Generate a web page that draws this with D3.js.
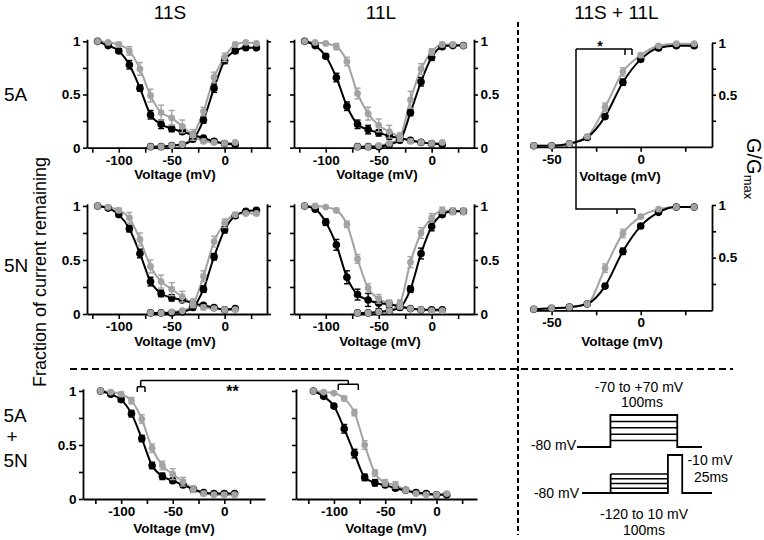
<!DOCTYPE html>
<html><head><meta charset="utf-8">
<script src="https://cdn.jsdelivr.net/npm/d3@7"></script>
<style>
body{margin:0;background:#fff}
svg{display:block}
</style></head><body>
<svg id="chart" width="764" height="540"></svg>
<script>
// ---------------- DATA ----------------
const vInact = [-120,-110,-100,-90,-80,-70,-60,-50,-40,-30,-20,-10,0,10];
const vAct   = [-70,-60,-50,-40,-30,-20,-10,0,10,20,30];
const vActCF = [-60,-50,-40,-30,-20,-10,0,10,20,30];

const xTicks = [-125,-100,-75,-50,-25,0,25];
const xTickLabels = [-100,-50,0];
const xTicksCF = [-50,-25,0,25];
const xTickLabelsCF = [-50,0];
const yTicks = [0,0.25,0.5,0.75,1];
const yTickLabels = [0,0.5,1];
const yTicksCF = [0.25,0.5,0.75,1];
const yTickLabelsCF = [0.5,1];

// 11S / 5A
const inactBlack_A = [1.00,0.96,0.91,0.78,0.56,0.31,0.22,0.18,0.15,0.12,0.09,0.06,0.04,0.03];
const inactBlackErr_A = [0,0.01,0.02,0.04,0.03,0.04,0.04,0.03,0.02,0.02,0.01,0.01,0.01,0.01];
const inactGrey_A = [1.00,0.99,0.97,0.91,0.74,0.49,0.33,0.28,0.20,0.12,0.06,0.05,0.04,0.05];
const inactGreyErr_A = [0,0.01,0.02,0.04,0.06,0.06,0.07,0.07,0.06,0.05,0.02,0.01,0.01,0.01];
const actBlack_A = [0.01,0.01,0.02,0.03,0.08,0.26,0.56,0.82,0.91,0.94,0.94];
const actBlackErr_A = [0,0,0.01,0.01,0.02,0.03,0.04,0.03,0.02,0.01,0.01];
const actGrey_A = [0.01,0.01,0.02,0.03,0.12,0.34,0.66,0.85,0.97,0.99,0.98];
const actGreyErr_A = [0,0,0.01,0.01,0.02,0.04,0.05,0.04,0.02,0.01,0.01];
// 11L / 5A
const inactBlack_B = [1.00,0.96,0.86,0.66,0.39,0.22,0.17,0.14,0.11,0.09,0.07,0.05,0.04,0.03];
const inactBlackErr_B = [0,0.01,0.02,0.04,0.04,0.04,0.04,0.03,0.03,0.02,0.01,0.01,0.01,0.01];
const inactGrey_B = [1.00,0.99,0.98,0.95,0.81,0.51,0.32,0.21,0.15,0.10,0.06,0.05,0.04,0.05];
const inactGreyErr_B = [0,0,0.01,0.03,0.04,0.05,0.06,0.06,0.06,0.04,0.02,0.01,0.01,0.01];
const actBlack_B = [0.01,0.01,0.01,0.03,0.07,0.33,0.62,0.85,0.95,0.96,0.96];
const actBlackErr_B = [0,0,0,0.01,0.02,0.03,0.04,0.03,0.02,0.01,0.01];
const actGrey_B = [0.01,0.01,0.02,0.04,0.10,0.45,0.74,0.90,0.97,0.97,0.96];
const actGreyErr_B = [0,0,0.01,0.01,0.03,0.08,0.05,0.03,0.02,0.01,0.01];
// 11S / 5N
const inactBlack_D = [1.00,0.98,0.92,0.79,0.56,0.30,0.19,0.15,0.13,0.10,0.08,0.06,0.04,0.05];
const inactBlackErr_D = [0,0.01,0.02,0.03,0.04,0.04,0.03,0.03,0.02,0.02,0.01,0.01,0.01,0.01];
const inactGrey_D = [1.00,0.99,0.96,0.89,0.69,0.44,0.30,0.23,0.16,0.10,0.06,0.05,0.04,0.04];
const inactGreyErr_D = [0,0.01,0.02,0.05,0.06,0.06,0.06,0.06,0.05,0.04,0.02,0.01,0.01,0.01];
const actBlack_D = [0.01,0.01,0.01,0.02,0.06,0.23,0.53,0.78,0.91,0.95,0.96];
const actBlackErr_D = [0,0,0,0.01,0.02,0.03,0.03,0.03,0.02,0.01,0.01];
const actGrey_D = [0.01,0.01,0.02,0.03,0.09,0.35,0.67,0.84,0.92,0.93,0.93];
const actGreyErr_D = [0,0,0,0.01,0.03,0.05,0.05,0.04,0.02,0.01,0.01];
// 11L / 5N
const inactBlack_E = [1.00,0.97,0.85,0.64,0.34,0.18,0.13,0.10,0.09,0.07,0.05,0.04,0.04,0.04];
const inactBlackErr_E = [0,0.01,0.03,0.05,0.06,0.05,0.06,0.05,0.03,0.02,0.01,0.01,0.01,0.01];
const inactGrey_E = [1.00,1.00,0.99,0.96,0.83,0.51,0.24,0.14,0.10,0.07,0.05,0.04,0.03,0.03];
const inactGreyErr_E = [0,0,0.01,0.02,0.03,0.04,0.04,0.04,0.03,0.02,0.01,0.01,0.01,0.01];
const actBlack_E = [0.01,0.01,0.02,0.03,0.06,0.23,0.56,0.81,0.92,0.95,0.95];
const actBlackErr_E = [0,0,0,0.01,0.02,0.03,0.05,0.04,0.02,0.02,0.02];
const actGrey_E = [0.01,0.01,0.02,0.03,0.10,0.48,0.75,0.89,0.96,0.95,0.95];
const actGreyErr_E = [0,0,0,0.01,0.03,0.05,0.05,0.04,0.03,0.03,0.03];
// 11S / 5A+5N
const inactBlack_G = [1.00,0.97,0.92,0.79,0.56,0.31,0.21,0.17,0.13,0.09,0.06,0.05,0.05,0.05];
const inactBlackErr_G = [0,0.01,0.02,0.03,0.03,0.03,0.03,0.02,0.02,0.01,0.01,0.01,0.01,0.01];
const inactGrey_G = [1.00,0.99,0.97,0.91,0.74,0.47,0.31,0.23,0.16,0.09,0.05,0.04,0.04,0.04];
const inactGreyErr_G = [0,0.01,0.02,0.03,0.04,0.04,0.04,0.05,0.04,0.03,0.02,0.01,0.01,0.01];
// 11L / 5A+5N
const inactBlack_H = [1.00,0.95,0.86,0.65,0.42,0.20,0.15,0.13,0.10,0.08,0.06,0.05,0.04,0.04];
const inactBlackErr_H = [0,0.01,0.02,0.04,0.04,0.03,0.03,0.02,0.02,0.01,0.01,0.01,0.01,0.01];
const inactGrey_H = [1.00,0.99,0.98,0.93,0.80,0.50,0.24,0.15,0.13,0.08,0.05,0.04,0.04,0.05];
const inactGreyErr_H = [0,0.01,0.01,0.02,0.03,0.04,0.03,0.03,0.03,0.02,0.01,0.01,0.01,0.01];
// 11S+11L activation, 5A and 5N
const actBlack_C = [0.01,0.01,0.03,0.09,0.29,0.62,0.84,0.95,0.97,0.97];
const actBlackErr_C = [0,0,0,0.01,0.02,0.03,0.02,0.02,0.01,0.01];
const actGrey_C = [0.01,0.01,0.03,0.10,0.38,0.72,0.88,0.97,0.99,0.99];
const actGreyErr_C = [0,0,0,0.01,0.04,0.04,0.02,0.01,0.01,0.01];
const actBlack_F = [0.01,0.02,0.03,0.06,0.23,0.56,0.80,0.93,0.98,0.98];
const actBlackErr_F = [0,0,0,0.01,0.02,0.03,0.02,0.01,0.01,0.01];
const actGrey_F = [0.01,0.02,0.03,0.06,0.40,0.73,0.89,0.96,0.98,0.98];
const actGreyErr_F = [0,0,0,0.01,0.04,0.04,0.02,0.01,0.01,0.01];

// Protocol schematic (ms / step index)
const proto1Times = [-50,0,100,137];
const proto1Levels = [1,2,3,4,5];
const proto2Times = [-50,0,100,125,177];
const proto2Levels = [1,2,3,4];
const proto2PulseLevel = 8;

// ---------------- DRAWING ----------------
const FONT = '"Liberation Sans", Arial, Helvetica, sans-serif';
const BLACK = '#000';
const GREY = '#a3a3a3';
const svg = d3.select('#chart').attr('font-family', FONT);

function zip(v, m, e){ return v.map((d,i)=>({v:d, m:m[i], e:e[i]})); }

function styleAxis(g){
  g.attr('font-family', FONT).attr('font-size', 13.5).attr('font-weight','bold');
  g.selectAll('path').attr('stroke', BLACK).attr('stroke-width', 1.8);
  g.selectAll('line').attr('stroke', BLACK).attr('stroke-width', 1.6);
  g.selectAll('text').attr('fill', BLACK);
}

function drawPanel(c){
  const x = d3.scaleLinear().domain(c.xd).range(c.xr);
  const y = d3.scaleLinear().domain(c.yd).range(c.yr);
  const g = svg.append('g');
  const fmt = labs => v => labs.includes(v) ? String(v) : '';

  const xa = g.append('g').attr('transform', `translate(0,${y(0)})`)
    .call(d3.axisBottom(x).tickValues(c.xt).tickFormat(fmt(c.xl)).tickSize(5).tickSizeOuter(0).tickPadding(2.5));
  styleAxis(xa);
  if (c.left){
    const la = g.append('g').attr('transform', `translate(${c.xr[0]},0)`)
      .call(d3.axisLeft(y).tickValues(c.yt).tickFormat(fmt(c.leftLabels)).tickSize(4).tickSizeOuter(0).tickPadding(2.5));
    styleAxis(la);
  }
  if (c.right){
    const ra = g.append('g').attr('transform', `translate(${c.xr[1]},0)`)
      .call(d3.axisRight(y).tickValues(c.yt).tickFormat(fmt(c.rightLabels)).tickSize(4).tickSizeOuter(0).tickPadding(2.5));
    styleAxis(ra);
  }

  const line = d3.line().x(d=>x(d.v)).y(d=>y(d.m)).curve(d3.curveMonotoneX);
  const order = [...c.series.filter(s=>s.color===GREY), ...c.series.filter(s=>s.color===BLACK)];
  order.forEach(s=>{
    g.append('path').datum(s.data).attr('d', line).attr('fill','none')
      .attr('stroke', s.color).attr('stroke-width', 2);
  });
  const pts = [...c.series.filter(s=>s.color===BLACK), ...c.series.filter(s=>s.color===GREY)];
  pts.forEach(s=>{
    const eb = g.append('g').attr('stroke', s.color).attr('stroke-width', 1.4);
    s.data.filter(d=>d.e>0).forEach(d=>{
      const cx = x(d.v), y1 = y(d.m-d.e), y2 = y(d.m+d.e);
      eb.append('line').attr('x1',cx).attr('x2',cx).attr('y1',y1).attr('y2',y2);
      eb.append('line').attr('x1',cx-3).attr('x2',cx+3).attr('y1',y1).attr('y2',y1);
      eb.append('line').attr('x1',cx-3).attr('x2',cx+3).attr('y1',y2).attr('y2',y2);
    });
    g.append('g').selectAll('circle').data(s.data).join('circle')
      .attr('cx', d=>x(d.v)).attr('cy', d=>y(d.m))
      .attr('r', s.color===BLACK ? 3.8 : 3.4)
      .attr('fill', s.color);
  });
  g.append('text').attr('x', c.vx).attr('y', c.vy).attr('text-anchor','middle')
    .attr('font-size', 13.5).attr('font-weight','bold').text('Voltage (mV)');
}

function inactSeries(b,be,gr,ge){
  return [{color:BLACK, data:zip(vInact,b,be)},{color:GREY, data:zip(vInact,gr,ge)}];
}
function actSeries(v,b,be,gr,ge){
  return [{color:BLACK, data:zip(v,b,be)},{color:GREY, data:zip(v,gr,ge)}];
}

const xdTop = [-130,40], xdBot = [-137,39.5], xdCF = [-61,40];

// Row 1
drawPanel({xd:xdTop, xr:[87,267], yd:[0,1.02], yr:[147.7,39.2], xt:xTicks, xl:xTickLabels, yt:yTicks,
  left:true, leftLabels:yTickLabels, right:true, rightLabels:[], vx:175, vy:179,
  series:[...inactSeries(inactBlack_A,inactBlackErr_A,inactGrey_A,inactGreyErr_A),
          ...actSeries(vAct,actBlack_A,actBlackErr_A,actGrey_A,actGreyErr_A)]});
drawPanel({xd:xdTop, xr:[294,474], yd:[0,1.02], yr:[147.7,39.2], xt:xTicks, xl:xTickLabels, yt:yTicks,
  left:true, leftLabels:[], right:true, rightLabels:yTickLabels, vx:377, vy:179,
  series:[...inactSeries(inactBlack_B,inactBlackErr_B,inactGrey_B,inactGreyErr_B),
          ...actSeries(vAct,actBlack_B,actBlackErr_B,actGrey_B,actGreyErr_B)]});
drawPanel({xd:xdCF, xr:[532,712], yd:[0,1], yr:[146.8,42.7], xt:xTicksCF, xl:xTickLabelsCF, yt:yTicksCF,
  left:false, right:true, rightLabels:yTickLabelsCF, vx:620, vy:181,
  series:actSeries(vActCF,actBlack_C,actBlackErr_C,actGrey_C,actGreyErr_C)});
// Row 2
drawPanel({xd:xdTop, xr:[87,267], yd:[0,1.02], yr:[314,203.8], xt:xTicks, xl:xTickLabels, yt:yTicks,
  left:true, leftLabels:yTickLabels, right:true, rightLabels:[], vx:175, vy:345.5,
  series:[...inactSeries(inactBlack_D,inactBlackErr_D,inactGrey_D,inactGreyErr_D),
          ...actSeries(vAct,actBlack_D,actBlackErr_D,actGrey_D,actGreyErr_D)]});
drawPanel({xd:xdTop, xr:[294,474], yd:[0,1.02], yr:[314,203.8], xt:xTicks, xl:xTickLabels, yt:yTicks,
  left:true, leftLabels:[], right:true, rightLabels:yTickLabels, vx:380, vy:345.5,
  series:[...inactSeries(inactBlack_E,inactBlackErr_E,inactGrey_E,inactGreyErr_E),
          ...actSeries(vAct,actBlack_E,actBlackErr_E,actGrey_E,actGreyErr_E)]});
drawPanel({xd:xdCF, xr:[532,712], yd:[0,1], yr:[310.3,205], xt:xTicksCF, xl:xTickLabelsCF, yt:yTicksCF,
  left:false, right:true, rightLabels:yTickLabelsCF, vx:622, vy:346,
  series:actSeries(vActCF,actBlack_F,actBlackErr_F,actGrey_F,actGreyErr_F)});
// Row 3
drawPanel({xd:xdBot, xr:[83,265], yd:[0,1.02], yr:[499,388.8], xt:xTicks, xl:xTickLabels, yt:yTicks,
  left:true, leftLabels:yTickLabels, right:false, vx:174, vy:533,
  series:inactSeries(inactBlack_G,inactBlackErr_G,inactGrey_G,inactGreyErr_G)});
drawPanel({xd:xdBot, xr:[296,477], yd:[0,1.02], yr:[499,388.8], xt:xTicks, xl:xTickLabels, yt:yTicks,
  left:true, leftLabels:[], right:false, vx:386, vy:533,
  series:inactSeries(inactBlack_H,inactBlackErr_H,inactGrey_H,inactGreyErr_H)});

// ---------------- LABELS ----------------
const txt = (x,y,s,size,opts={}) => {
  const t = svg.append('text').attr('x',x).attr('y',y).attr('font-size',size)
    .attr('text-anchor', opts.anchor||'start').attr('fill','#000').text(s);
  if (opts.bold) t.attr('font-weight','bold');
  return t;
};
txt(170,18.5,'11S',19,{anchor:'middle'});
txt(381,18.5,'11L',19,{anchor:'middle'});
txt(616.5,18.5,'11S + 11L',19,{anchor:'middle'});
txt(4,100.5,'5A',19);
txt(4,271.5,'5N',19);
txt(3.5,421.5,'5A',19);
txt(12,443,'+',19,{anchor:'middle'});
txt(3.5,466.5,'5N',19);

svg.append('text').attr('transform','translate(45.5,272) rotate(-90)')
  .attr('text-anchor','middle').attr('font-size',18).text('Fraction of current remaining');
const gg = svg.append('text').attr('transform','translate(747,138) rotate(90)')
  .attr('font-size',20);
gg.append('tspan').text('G/G');
gg.append('tspan').attr('font-size',13).attr('dy',3).text('max');

// dashed separators
svg.append('line').attr('x1',518).attr('x2',518).attr('y1',22).attr('y2',535)
  .attr('stroke','#000').attr('stroke-width',2).attr('stroke-dasharray','5,3');
svg.append('line').attr('x1',70).attr('x2',733).attr('y1',369).attr('y2',369)
  .attr('stroke','#000').attr('stroke-width',1.8).attr('stroke-dasharray','7,4');

// significance brackets
const br = svg.append('g').attr('stroke','#000').attr('stroke-width',1.5).attr('fill','none');
br.append('path').attr('d','M576,49 H632 M625,49 V55 M632,49 V55 M576,49 V209 H635 M617,209 V214 M635,209 V214');
br.append('path').attr('d','M140.7,380.5 H348.3 M140.7,380.5 V386.7 M137.3,386.7 H145 M137.3,386.7 V392 M145,386.7 V392 M348.3,380.5 V384.3 M338.3,384.3 H358.3 M338.3,384.3 V390 M358.3,384.3 V390');
txt(600,51,'*',14,{anchor:'middle',bold:true});
txt(232.5,397,'**',16,{anchor:'middle',bold:true});

// ---------------- PROTOCOL ----------------
const pg = svg.append('g').attr('stroke','#000').attr('fill','none').attr('stroke-width',1.8);
const t1 = d3.scaleLinear().domain([proto1Times[0], proto1Times[3]]).range([577,702]);
const l1 = d3.scaleLinear().domain([0,5]).range([447,415]);
pg.append('path').attr('d',
  `M${t1(proto1Times[0])},${l1(0)} H${t1(proto1Times[1])} V${l1(5)} H${t1(proto1Times[2])} V${l1(0)} H${t1(proto1Times[3])}`);
proto1Levels.forEach(k=>{
  pg.append('line').attr('x1',t1(proto1Times[1])).attr('x2',t1(proto1Times[2]))
    .attr('y1',l1(k)).attr('y2',l1(k)).attr('stroke-width',1.5);
});
const t2 = d3.scaleLinear().domain([proto2Times[0], proto2Times[4]]).range([582,712]);
const l2 = d3.scaleLinear().domain([0,4]).range([493,474]);
pg.append('path').attr('d',
  `M${t2(proto2Times[0])},${l2(0)} H${t2(proto2Times[1])} V${l2(4)} M${t2(proto2Times[1])},${l2(0)} H${t2(proto2Times[2])} V${l2(proto2PulseLevel)} H${t2(proto2Times[3])} V${l2(0)} H${t2(proto2Times[4])}`);
proto2Levels.forEach(k=>{
  pg.append('line').attr('x1',t2(proto2Times[1])).attr('x2',t2(proto2Times[2]))
    .attr('y1',l2(k)).attr('y2',l2(k)).attr('stroke-width',1.5);
});
txt(639,392,'-70 to +70 mV',14,{anchor:'middle'});
txt(642,407,'100ms',14,{anchor:'middle'});
txt(576,450,'-80 mV',14,{anchor:'end'});
txt(579,497.5,'-80 mV',14,{anchor:'end'});
txt(710,465,'-10 mV',14,{anchor:'middle'});
txt(711,482,'25ms',14,{anchor:'middle'});
txt(644,519,'-120 to 10 mV',14,{anchor:'middle'});
txt(644,535,'100ms',14,{anchor:'middle'});
</script>
</body></html>
